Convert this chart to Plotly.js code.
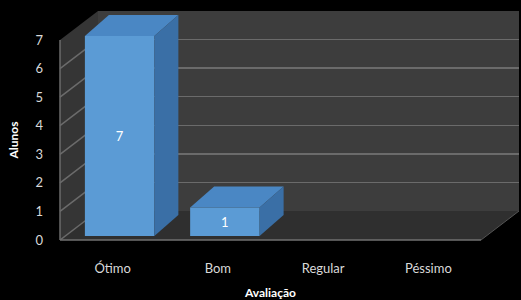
<!DOCTYPE html>
<html>
<head>
<meta charset="utf-8">
<script src="https://cdn.plot.ly/plotly-3.0.1.min.js"></script>
<style>html,body{margin:0;padding:0;background:#000;}#chart{width:521px;height:300px;}</style>
</head>
<body>
<div id="chart"></div>
<script>
// ---- data ----
const categories = ['Ótimo', 'Bom', 'Regular', 'Péssimo'];
const alunos = [7, 1, 0, 0];
const yTickVals = [0, 1, 2, 3, 4, 5, 6, 7];
const yTitle = 'Alunos';
const xTitle = 'Avaliação';

// ---- geometry (layout only) ----
const L = 60, R = 2, T = 11, B = 60;
const plotW = 521 - L - R, plotH = 300 - T - B;
const depthX = 38, depthY = 29;          // wall depth in px
const frontW = plotW - depthX, frontH = plotH - depthY;
const barShiftX = 7, barShiftY = 4;       // bar front face offset from front plane
const bargap = 0.34;
const barDX = 24, barDY = 21;             // bar depth in px
const yMax = 7;

const fx = frontW / plotW, fy = frontH / plotH;
const bx = depthX / plotW, by = depthY / plotH;

const catPx = (frontW) / categories.length;
const halfBar = catPx * (1 - bargap) / 2;
const pxPerUnit = frontH / yMax;
// bar axes extend to top of plot so the 3D top faces are not clipped
const y3Len = plotH - barShiftY;
const y3Max = y3Len / pxPerUnit;

const shapes = [];
// back wall
shapes.push({type:'rect', xref:'paper', yref:'paper', x0:bx, x1:1, y0:by, y1:1,
  fillcolor:'#3d3d3d', line:{width:0}, layer:'below'});
// left wall
shapes.push({type:'path', xref:'paper', yref:'paper',
  path:`M 0,0 L 0,${fy} L ${bx},1 L ${bx},${by} Z`,
  fillcolor:'#353535', line:{width:0}, layer:'below'});
// floor
shapes.push({type:'path', xref:'paper', yref:'paper',
  path:`M 0,0 L ${fx},0 L 1,${by} L ${bx},${by} Z`,
  fillcolor:'#2f2f2f', line:{width:0}, layer:'below'});
// left wall gridlines
yTickVals.forEach(v => {
  shapes.push({type:'line', xref:'paper', x0:0, x1:bx, yref:'y', ysizemode:'pixel',
    yanchor:v, y0:0, y1:depthY, line:{color:'#6b6b6b', width:1.5}, layer:'below'});
});
// front edges
shapes.push({type:'line', xref:'paper', yref:'paper', x0:0, x1:fx, y0:0, y1:0,
  line:{color:'#707070', width:1.5}, layer:'below'});
shapes.push({type:'line', xref:'paper', yref:'paper', x0:fx, x1:1, y0:0, y1:by,
  line:{color:'#555555', width:1}, layer:'below'});
shapes.push({type:'line', xref:'paper', yref:'paper', x0:0, x1:0, y0:0, y1:fy,
  line:{color:'#6b6b6b', width:1.5}, layer:'below'});

// 3D faces of bars (computed from the data)
alunos.forEach((v, i) => {
  if (v <= 0) return;
  const h = halfBar, hp = v * pxPerUnit;
  shapes.push({type:'path', xref:'x3', yref:'y3', xsizemode:'pixel', ysizemode:'pixel',
    xanchor:i, yanchor:v,
    path:`M ${-h},0 L ${h},0 L ${h+barDX},${barDY} L ${-h+barDX},${barDY} Z`,
    fillcolor:'#4a87c4', line:{width:0}, layer:'above'});
  shapes.push({type:'path', xref:'x3', yref:'y3', xsizemode:'pixel', ysizemode:'pixel',
    xanchor:i, yanchor:v,
    path:`M ${h},0 L ${h+barDX},${barDY} L ${h+barDX},${barDY-hp} L ${h},${-hp} Z`,
    fillcolor:'#3a6fa6', line:{width:0}, layer:'above'});
});

const font = 'Lato, "Open Sans", sans-serif';

const traces = [
  // front plane axes (ticks / labels)
  {type:'scatter', x:categories, y:[null,null,null,null], xaxis:'x', yaxis:'y',
   hoverinfo:'skip', showlegend:false},
  // back wall axes (gridlines)
  {type:'scatter', x:[], y:[], xaxis:'x2', yaxis:'y2', hoverinfo:'skip', showlegend:false},
  // bars
  {type:'bar', x:categories, y:alunos, xaxis:'x3', yaxis:'y3',
   marker:{color:'#5b9bd5', line:{width:0}},
   text:alunos.map(v => v > 0 ? String(v) : ''), textposition:'inside',
   insidetextanchor:'middle', textfont:{color:'#ffffff', size:13, family:font},
   hoverinfo:'x+y', showlegend:false}
];

const layout = {
  width:521, height:300,
  margin:{l:L, r:R, t:T, b:B},
  paper_bgcolor:'#000000', plot_bgcolor:'rgba(0,0,0,0)',
  font:{family:font, color:'#d9d9d9', size:12},
  bargap:bargap,
  showlegend:false,
  xaxis:{domain:[0, fx], anchor:'y', type:'category', categoryarray:categories,
    range:[-0.5, categories.length - 0.5], showgrid:false, zeroline:false, showline:false,
    ticks:'', tickfont:{size:13, color:'#d9d9d9'}, ticklabelstandoff:19,
    title:{text:xTitle, font:{size:12, color:'#ffffff', family:font, weight:'bold'}, standoff:13}},
  yaxis:{domain:[0, fy], anchor:'x', range:[0, yMax], tickvals:yTickVals,
    showgrid:false, zeroline:false, showline:false, ticks:'',
    tickfont:{size:13, color:'#d9d9d9'}, ticklabelstandoff:16,
    title:{text:yTitle, font:{size:12, color:'#ffffff', family:font, weight:'bold'}, standoff:14}},
  xaxis2:{domain:[bx, 1], anchor:'y2', range:[0, 1], showgrid:false, zeroline:false,
    showticklabels:false, showline:false, ticks:''},
  yaxis2:{domain:[by, 1], anchor:'x2', range:[0, yMax], tickvals:yTickVals,
    showgrid:true, gridcolor:'#6b6b6b', gridwidth:1.5, zeroline:false,
    showticklabels:false, showline:false, ticks:''},
  xaxis3:{domain:[barShiftX/plotW, (frontW + barShiftX)/plotW], anchor:'y3', type:'category',
    categoryarray:categories, range:[-0.5, categories.length - 0.5],
    showgrid:false, zeroline:false, showticklabels:false, showline:false, ticks:''},
  yaxis3:{domain:[barShiftY/plotH, 1], anchor:'x3', range:[0, y3Max],
    showgrid:false, zeroline:false, showticklabels:false, showline:false, ticks:''},
  shapes:shapes
};

Plotly.newPlot('chart', traces, layout, {displayModeBar:false, staticPlot:true});
</script>
</body>
</html>
